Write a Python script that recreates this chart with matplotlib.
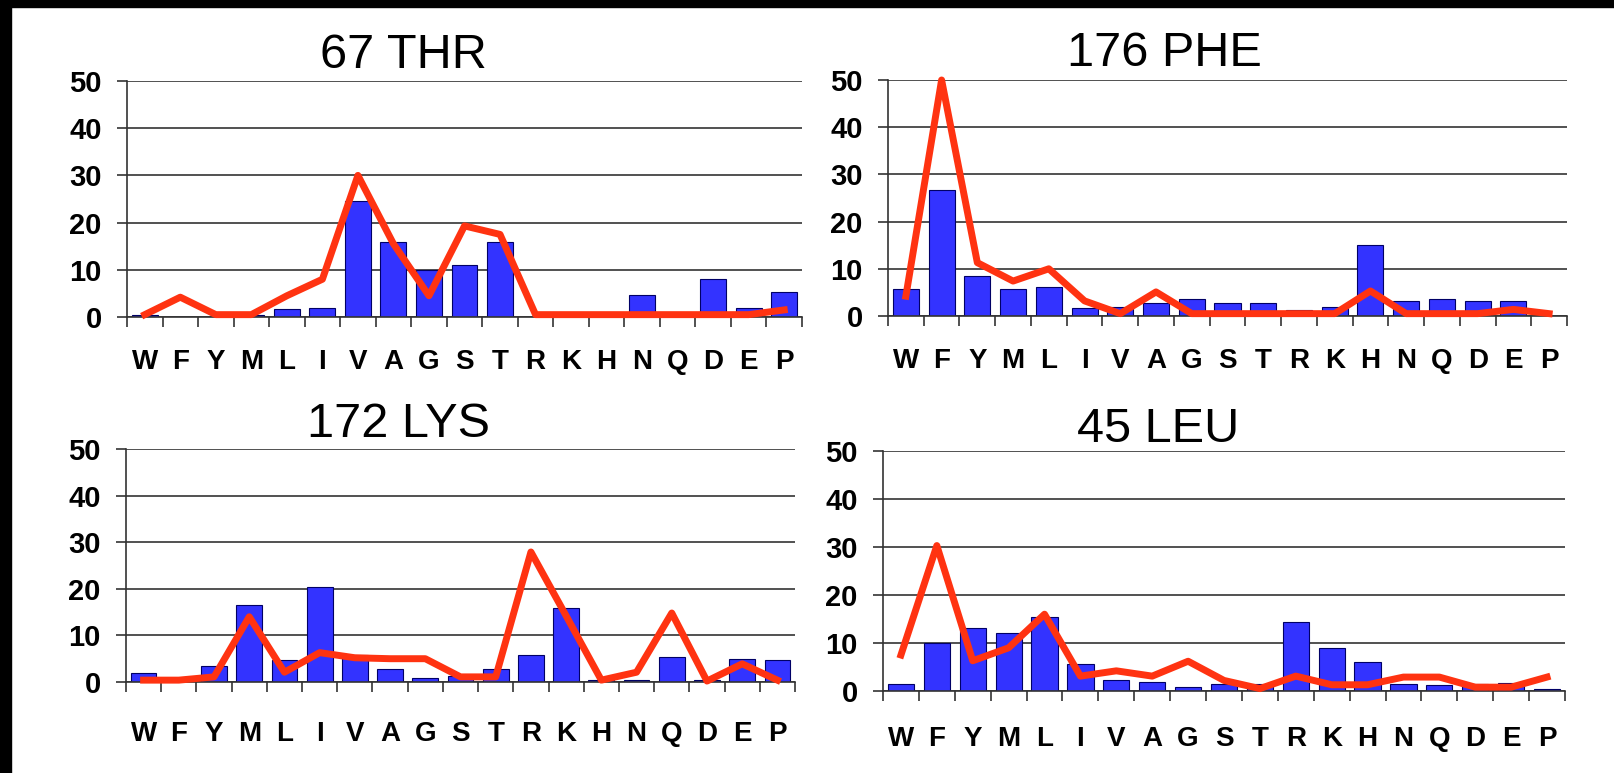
import numpy as np
import matplotlib.pyplot as plt
from matplotlib.patches import Rectangle

plt.rcParams['font.family'] = ['Liberation Sans', 'DejaVu Sans']

aa = ['W', 'F', 'Y', 'M', 'L', 'I', 'V', 'A', 'G', 'S',
      'T', 'R', 'K', 'H', 'N', 'Q', 'D', 'E', 'P']

# 67 THR
thr_bar = [0.5, 0, 0, 0.5, 1.6, 2.0, 24.5, 15.8, 10.0, 11.0, 15.8, 0, 0, 0, 4.6, 0, 8.0, 2.0, 5.4]
thr_line = [0.5, 4.2, 0.5, 0.5, 4.5, 8.0, 30, 15.5, 4.5, 19.3, 17.5, 0.5, 0.5, 0.5, 0.5, 0.5, 0.5, 0.5, 1.5]

# 176 PHE
phe_bar = [5.8, 26.8, 8.5, 5.8, 6.1, 1.8, 2.0, 2.8, 3.5, 2.8, 2.8, 1.3, 2.0, 15.1, 3.2, 3.5, 3.2, 3.2, 0]
phe_line = [4.2, 50, 11.3, 7.4, 10, 3.2, 0.5, 5.1, 0.5, 0.5, 0.5, 0.5, 0.5, 5.3, 0.5, 0.5, 0.5, 1.4, 0.5]

# 172 LYS
lys_bar = [1.9, 0, 3.4, 16.6, 4.7, 20.4, 5.9, 2.8, 0.9, 1.2, 2.8, 5.7, 15.9, 0.5, 0.5, 5.4, 0.5, 4.9, 4.7]
lys_line = [0.4, 0.4, 1.1, 14, 2.1, 6.3, 5.2, 5.0, 5.0, 1.1, 1.1, 27.9, 14.2, 0.4, 2.1, 14.8, 0.2, 3.9, 0.4]

# 45 LEU
leu_bar = [1.5, 10.1, 13.2, 12, 15.5, 5.6, 2.2, 1.9, 0.8, 1.5, 1.5, 14.3, 9, 6.1, 1.5, 1.2, 1.5, 1.7, 0.5]
leu_line = [7.5, 30.3, 6.3, 9, 16, 3.1, 4.2, 3.1, 6.2, 2.2, 0.5, 3.1, 1.3, 1.3, 2.9, 2.9, 0.8, 0.8, 2.9]

W, H = 1615, 773
fig = plt.figure(figsize=(W / 100, H / 100), dpi=100)

# black strips on the left and top edge of the screenshot
fig.patches.append(Rectangle((0, 0), 11 / W, 1, transform=fig.transFigure, color='black'))
fig.patches.append(Rectangle((0, 1 - 7 / H), 1, 7 / H, transform=fig.transFigure, color='black'))

grid_c = '#333333'

# title, bars, line, axes box in px (left, top, right, bottom), title pos (x, baseline), label pad
panels = [
    ('67 THR', thr_bar, thr_line, (127, 81, 802, 317), (403, 68), 23),
    ('176 PHE', phe_bar, phe_line, (888, 80, 1567, 316), (1164, 66), 23),
    ('172 LYS', lys_bar, lys_line, (126, 449, 795, 682), (399, 437), 28),
    ('45 LEU', leu_bar, leu_line, (883, 451, 1565, 691), (1158, 442), 25),
]

for title, bars, line, box, tpos, lpad in panels:
    l, t, r, b = box
    ax = fig.add_axes([l / W, 1 - b / H, (r - l) / W, (b - t) / H])
    x = np.arange(len(aa))
    ax.bar(x, bars, width=0.73, color='#3333ff', edgecolor='#000066', linewidth=0.8, zorder=2)
    ax.plot(x, line, color='#ff3311', lw=5, zorder=3, clip_on=False)

    ax.set_xlim(-0.5, len(aa) - 0.5)
    ax.set_ylim(0, 50)
    ax.set_yticks(range(0, 51, 10))
    ax.yaxis.grid(True, color=grid_c, lw=1.2)
    ax.set_axisbelow(True)
    for s in ['top', 'right']:
        ax.spines[s].set_visible(False)
    for s in ['left', 'bottom']:
        ax.spines[s].set_color(grid_c)
        ax.spines[s].set_linewidth(1.2)

    ax.set_xticks(x, aa)
    ax.set_xticks(np.arange(-0.5, len(aa), 1), minor=True)
    ax.tick_params(axis='x', which='major', length=0, pad=lpad)
    ax.tick_params(axis='x', which='minor', length=7.2, width=1.2, color=grid_c)
    ax.tick_params(axis='y', length=7.2, width=1.2, color=grid_c, pad=11)
    for lab in ax.get_xticklabels():
        lab.set_fontsize(20)
        lab.set_fontweight('bold')
    for lab in ax.get_yticklabels():
        lab.set_fontsize(21)
        lab.set_fontweight('bold')

    fig.text(tpos[0] / W, 1 - tpos[1] / H, title, fontsize=35,
             ha='center', va='baseline')

fig.savefig('out.png', dpi=100)
